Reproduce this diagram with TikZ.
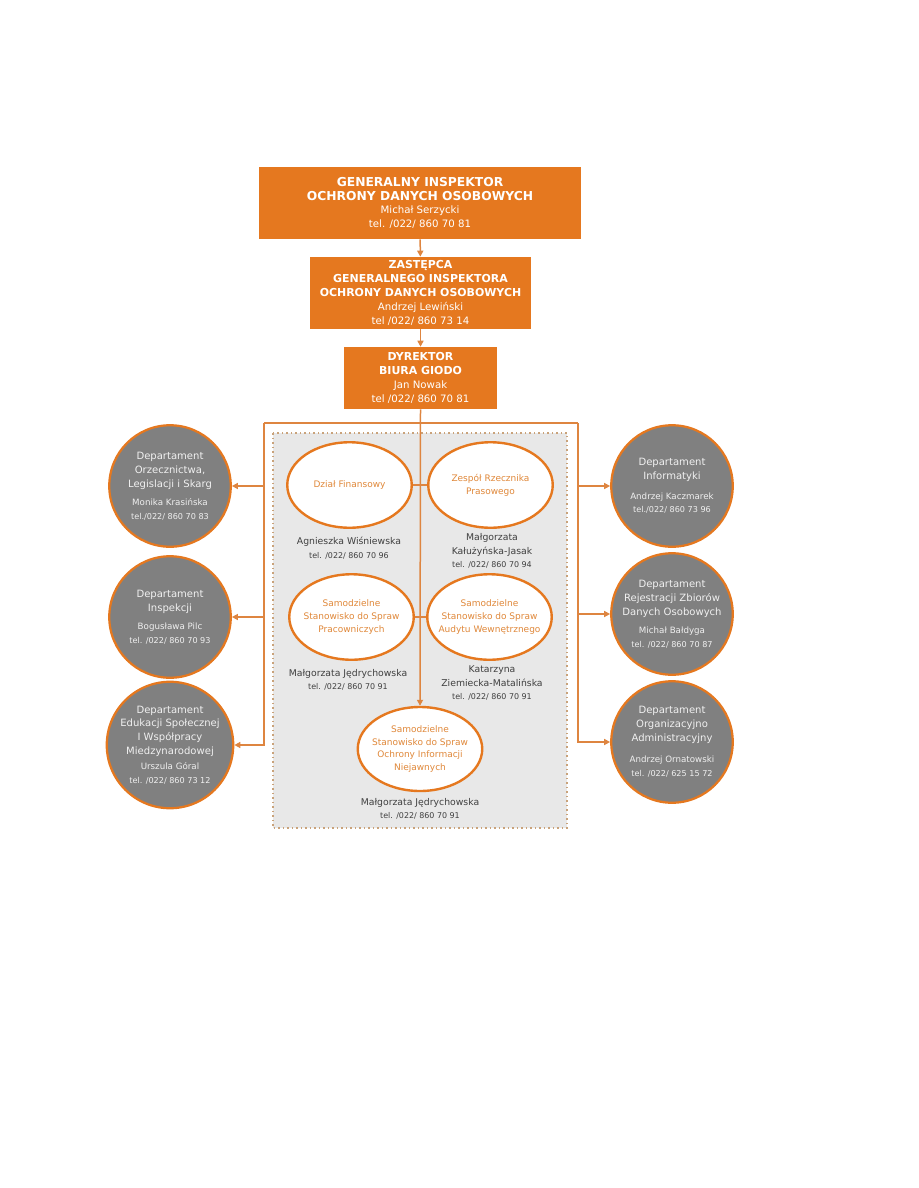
\documentclass[tikz,border=0pt]{standalone}
\usepackage{fontspec}
\setmainfont{DejaVu Sans}
\usepackage{tikz}
\usetikzlibrary{arrows.meta, positioning, shapes.geometric}
\definecolor{GIODOorange}{HTML}{E5781F}
\definecolor{GIODOline}{HTML}{DE8540}
\definecolor{GIODOtext}{HTML}{E0883A}
\definecolor{GIODOgray}{HTML}{808080}
\definecolor{GIODOpanel}{HTML}{E8E8E8}
\definecolor{GIODOdark}{HTML}{3F3F3F}
\definecolor{GIODOdot}{HTML}{C9A27A}
\newcommand{\chiefbig}{\fontsize{8.2}{9.3}\selectfont\bfseries}
\newcommand{\chiefsmall}{\fontsize{7.3}{9}\selectfont\bfseries}
\newcommand{\chiefname}{\fontsize{6.8}{9.2}\selectfont\mdseries}
\newcommand{\ovalfont}{\fontsize{6}{8.5}\selectfont}
\newcommand{\personname}{\fontsize{6.2}{9}\selectfont}
\newcommand{\persontel}{\fontsize{5.3}{9}\selectfont}
\newcommand{\depttext}{\fontsize{6.7}{9.2}\selectfont}
\newcommand{\deptname}{\fontsize{5.8}{8.2}\selectfont}
\newcommand{\depttel}{\fontsize{5.4}{8.2}\selectfont}

\begin{document}
\begin{tikzpicture}[x=0.6667pt, y=-0.6667pt,
  chief/.style={fill=GIODOorange, text=white, align=center, inner sep=0pt},
  unit/.style={ellipse, draw=GIODOorange, line width=1.6pt, fill=white,
    text=GIODOtext, align=center, inner xsep=-5pt, inner ysep=0pt,
    minimum width=83pt, minimum height=57pt, font=\ovalfont},
  person/.style={text=GIODOdark, align=center, inner sep=0pt, font=\personname},
  dept/.style={circle, draw=GIODOorange, line width=1.5pt, fill=GIODOgray,
    text=white!94!black, align=center, minimum size=81pt, inner sep=0pt,
    font=\depttext},
  link/.style={draw=GIODOline, line width=1pt},
  arr/.style={link, -{Triangle[length=4pt, width=4pt]}}]
\useasboundingbox (0,0) rectangle (918,1188);

% management
\node[chief, minimum width=214.7pt, minimum height=48pt, font=\chiefname] (giodo) at (420,203)
  {\chiefbig GENERALNY INSPEKTOR\\\chiefbig OCHRONY DANYCH OSOBOWYCH\\
   Michał Serzycki\\tel. /022/ 860 70 81};
\node[chief, minimum width=147.3pt, minimum height=48pt, font=\chiefname] (zast) at (420.5,293)
  {\chiefsmall ZASTĘPCA\\\chiefsmall GENERALNEGO INSPEKTORA\\
   \chiefsmall OCHRONY DANYCH OSOBOWYCH\\
   Andrzej Lewiński\\tel /022/ 860 73 14};
\node[chief, minimum width=102pt, minimum height=41.3pt, font=\chiefname] (dyr) at (420.5,378)
  {\chiefsmall DYREKTOR\\\chiefsmall BIURA GIODO\\
   Jan Nowak\\tel /022/ 860 70 81};

\draw[arr] (giodo) -- (zast);
\draw[arr] (zast) -- (dyr);

% independent posts panel
\fill[GIODOpanel] (273,433) rectangle (567,828);
\draw[GIODOdot, dotted, line width=1pt] (273,433) rectangle (567,828);

\node[unit] (fin) at (349.5,485) {Dział Finansowy};
\node[unit] (rzecz) at (490.5,485) {Zespół Rzecznika\\Prasowego};
\node[unit] (prac) at (351.5,617) {Samodzielne\\Stanowisko do Spraw\\Pracowniczych};
\node[unit] (audyt) at (489.5,617) {Samodzielne\\Stanowisko do Spraw\\Audytu Wewnętrznego};
\node[unit, minimum height=56pt] (ochr) at (420,749)
  {Samodzielne\\Stanowisko do Spraw\\Ochrony Informacji\\Niejawnych};

\node[person] (finp) at (349,548)
  {Agnieszka Wiśniewska\\\persontel tel. /022/ 860 70 96};
\node[person] (rzeczp) at (492,551)
  {Małgorzata\\Kałużyńska-Jasak\\\persontel tel. /022/ 860 70 94};
\node[person] (pracp) at (348,680)
  {Małgorzata Jędrychowska\\\persontel tel. /022/ 860 70 91};
\node[person] (audytp) at (492,683)
  {Katarzyna\\Ziemiecka-Matalińska\\\persontel tel. /022/ 860 70 91};
\node[person] (ochrp) at (420,809)
  {Małgorzata Jędrychowska\\\persontel tel. /022/ 860 70 91};

\draw[link] (fin) -- (rzecz);
\draw[link] (prac) -- (audyt);
\draw[arr] (dyr.south) -- (ochr.north);

% departments
\node[dept] (orz) at (170,486)
  {Departament\\Orzecznictwa,\\Legislacji i Skarg\\[3pt]
   \deptname Monika Krasińska\\\depttel tel./022/ 860 70 83};
\node[dept] (insp) at (170,617)
  {Departament\\Inspekcji\\[3pt]
   \deptname Bogusława Pilc\\\depttel tel. /022/ 860 70 93};
\node[dept] (edu) at (170,745)
  {Departament\\Edukacji Społecznej\\I Współpracy\\Miedzynarodowej\\[1pt]
   \deptname Urszula Góral\\\depttel tel. /022/ 860 73 12};
\node[dept] (inf) at (672,486)
  {Departament\\Informatyki\\[4pt]
   \deptname Andrzej Kaczmarek\\\depttel tel./022/ 860 73 96};
\node[dept] (rej) at (672,614)
  {Departament\\Rejestracji Zbiorów\\Danych Osobowych\\[3pt]
   \deptname Michał Bałdyga\\\depttel tel. /022/ 860 70 87};
\node[dept] (org) at (672,742)
  {Departament\\Organizacyjno\\Administracyjny\\[5pt]
   \deptname Andrzej Ornatowski\\\depttel tel. /022/ 625 15 72};

\coordinate (lbus) at (264,423);
\coordinate (rbus) at (578,423);
\draw[link] (lbus) -- (rbus);
\draw[arr] (lbus) |- (orz);
\draw[arr] (lbus) |- (insp);
\draw[arr] (lbus) |- (edu);
\draw[arr] (rbus) |- (inf);
\draw[arr] (rbus) |- (rej);
\draw[arr] (rbus) |- (org);
\end{tikzpicture}
\end{document}
